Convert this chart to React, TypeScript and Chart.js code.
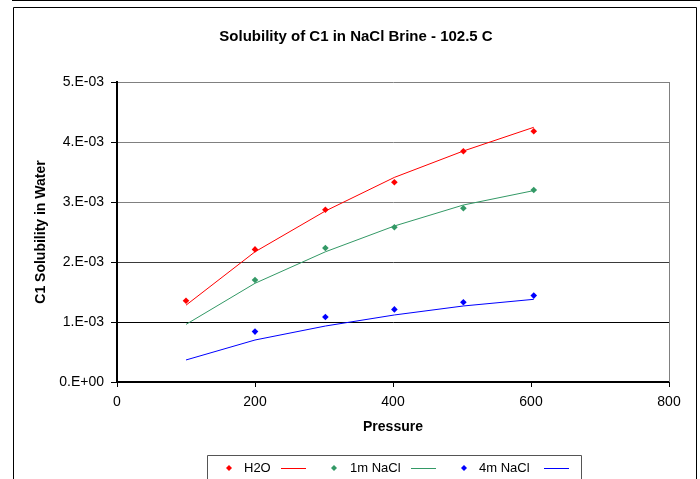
import React, { useEffect, useRef } from 'react';
import { Chart, registerables } from 'chart.js';

Chart.register(...registerables);

// ---- data ----
const pressures = [100, 200, 302, 402, 502, 604];
const pointPressures = [200, 302, 402, 502, 604];
const h2oData = [1.355e-3, 2.21e-3, 2.87e-3, 3.33e-3, 3.845e-3, 4.18e-3];
const h2oFit = [1.28e-3, 2.17e-3, 2.85e-3, 3.41e-3, 3.85e-3, 4.245e-3];
const nacl1Data = [1.7e-3, 2.233e-3, 2.578e-3, 2.895e-3, 3.2e-3];
const nacl1Fit = [0.96e-3, 1.645e-3, 2.17e-3, 2.6e-3, 2.95e-3, 3.19e-3];
const nacl4Data = [0.84e-3, 1.083e-3, 1.21e-3, 1.328e-3, 1.44e-3];
const nacl4Fit = [0.367e-3, 0.7e-3, 0.933e-3, 1.117e-3, 1.267e-3, 1.378e-3];
const yTickLabels = ['0.E+00', '1.E-03', '2.E-03', '3.E-03', '4.E-03', '5.E-03'];
const xTickLabels = ['0', '200', '400', '600', '800'];
const seriesNames = ['H2O', '1m NaCl', '4m NaCl'];
const seriesColors = ['#FF0000', '#339966', '#0000FF'];
const chartTitle = 'Solubility of C1 in NaCl Brine - 102.5 C';

const FONT = '"Liberation Sans", Arial, sans-serif';

const toXY = (xs: number[], ys: number[]) => ys.map((y, i) => ({ x: xs[i], y }));

const decorPlugin = {
  id: 'decor',
  beforeDraw(chart: any) {
    const { ctx, width, height } = chart;
    ctx.save();
    ctx.fillStyle = '#fff';
    ctx.fillRect(0, 0, width, height);
    ctx.restore();
  },
  afterDraw(chart: any) {
    const { ctx, chartArea } = chart;
    ctx.save();
    ctx.lineWidth = 1;
    // plot area right border
    ctx.strokeStyle = '#808080';
    ctx.beginPath();
    const rx = Math.round(chartArea.right) + 0.5;
    ctx.moveTo(rx, chartArea.top);
    ctx.lineTo(rx, chartArea.bottom);
    ctx.stroke();
    // outer frame
    ctx.strokeStyle = '#000';
    ctx.beginPath();
    ctx.moveTo(12, 0.5);
    ctx.lineTo(700, 0.5);
    ctx.moveTo(13.5, 480);
    ctx.lineTo(13.5, 7.5);
    ctx.lineTo(696.5, 7.5);
    ctx.lineTo(696.5, 480);
    ctx.stroke();
    // title
    ctx.fillStyle = '#000';
    ctx.font = `bold 15px ${FONT}`;
    ctx.textAlign = 'center';
    ctx.textBaseline = 'middle';
    ctx.fillText(chartTitle, 356, 37);
    // legend frame
    ctx.strokeStyle = '#555';
    ctx.beginPath();
    ctx.moveTo(207.5, 480);
    ctx.lineTo(207.5, 455.5);
    ctx.lineTo(581.5, 455.5);
    ctx.lineTo(581.5, 480);
    ctx.stroke();
    // legend items
    const markerX = [229, 334, 464];
    const textX = [244, 350, 479];
    const lineX = [281, 411, 544];
    const ly = 468;
    ctx.font = `13px ${FONT}`;
    ctx.textBaseline = 'middle';
    ctx.textAlign = 'left';
    seriesNames.forEach((name, i) => {
      const c = seriesColors[i];
      ctx.fillStyle = c;
      ctx.beginPath();
      ctx.moveTo(markerX[i], ly - 3);
      ctx.lineTo(markerX[i] + 3, ly);
      ctx.lineTo(markerX[i], ly + 3);
      ctx.lineTo(markerX[i] - 3, ly);
      ctx.closePath();
      ctx.fill();
      ctx.fillStyle = '#000';
      ctx.fillText(name, textX[i], ly);
      ctx.strokeStyle = c;
      ctx.beginPath();
      ctx.moveTo(lineX[i], ly + 0.5);
      ctx.lineTo(lineX[i] + 25, ly + 0.5);
      ctx.stroke();
    });
    ctx.restore();
  },
};

export default function App() {
  const ref = useRef<HTMLCanvasElement>(null);
  useEffect(() => {
    if (!ref.current) return;
    Chart.defaults.font.family = FONT;
    Chart.defaults.color = '#000';
    const pointDs = (label: string, xs: number[], ys: number[], color: string) => ({
      label,
      data: toXY(xs, ys),
      showLine: false,
      pointStyle: 'rectRot',
      pointRadius: 3.3,
      pointBackgroundColor: color,
      pointBorderColor: color,
      pointBorderWidth: 0,
      borderColor: color,
      backgroundColor: color,
    });
    const lineDs = (label: string, xs: number[], ys: number[], color: string) => ({
      label: label + ' fit',
      data: toXY(xs, ys),
      showLine: true,
      pointRadius: 0,
      borderColor: color,
      borderWidth: 1,
      backgroundColor: color,
      tension: 0,
    });
    const chart = new Chart(ref.current, {
      type: 'scatter',
      data: {
        datasets: [
          lineDs(seriesNames[0], pressures, h2oFit, seriesColors[0]),
          lineDs(seriesNames[1], pressures, nacl1Fit, seriesColors[1]),
          lineDs(seriesNames[2], pressures, nacl4Fit, seriesColors[2]),
          pointDs(seriesNames[0], pressures, h2oData, seriesColors[0]),
          pointDs(seriesNames[1], pointPressures, nacl1Data, seriesColors[1]),
          pointDs(seriesNames[2], pointPressures, nacl4Data, seriesColors[2]),
        ] as any,
      },
      options: {
        responsive: false,
        animation: false,
        layout: { padding: { left: 0, top: 82, right: 31, bottom: 0 } },
        plugins: {
          legend: { display: false },
          tooltip: { enabled: false },
          title: { display: false },
        },
        scales: {
          x: {
            type: 'linear',
            min: 0,
            max: 800,
            ticks: {
              stepSize: 200,
              padding: 7,
              font: { size: 14 },
              color: '#000',
              callback: (_v: any, i: number) => xTickLabels[i],
            },
            grid: { drawOnChartArea: false, drawTicks: true, tickLength: 5, tickColor: '#000' },
            border: { color: '#000', width: 2 },
            title: {
              display: true,
              text: 'Pressure',
              font: { size: 14, weight: 'bold' },
              color: '#000',
              padding: { top: 0, bottom: 43.6 },
            },
            afterFit: (s: any) => {
              s.height = 97;
            },
          },
          y: {
            type: 'linear',
            min: 0,
            max: 0.005,
            ticks: {
              stepSize: 0.001,
              padding: 7,
              font: { size: 14 },
              color: '#000',
              callback: (_v: any, i: number) => yTickLabels[i],
            },
            grid: {
              drawTicks: true,
              tickLength: 6,
              tickColor: '#000',
              color: (c: any) => (c.index === 1 ? '#000' : c.index === 2 ? '#3a3a3a' : '#808080'),
              lineWidth: 1,
            },
            border: { color: '#000', width: 2 },
            title: {
              display: true,
              text: 'C1 Solubility in Water',
              font: { size: 14, weight: 'bold' },
              color: '#000',
              padding: { top: 32.6, bottom: 0 },
            },
            afterFit: (s: any) => {
              s.width = 117;
            },
          },
        },
      } as any,
      plugins: [decorPlugin],
    });
    return () => chart.destroy();
  }, []);
  return (
    <div style={{ position: 'absolute', left: 0, top: 0, width: 700, height: 479 }}>
      <canvas ref={ref} width={700} height={479} style={{ display: 'block' }} />
    </div>
  );
}
